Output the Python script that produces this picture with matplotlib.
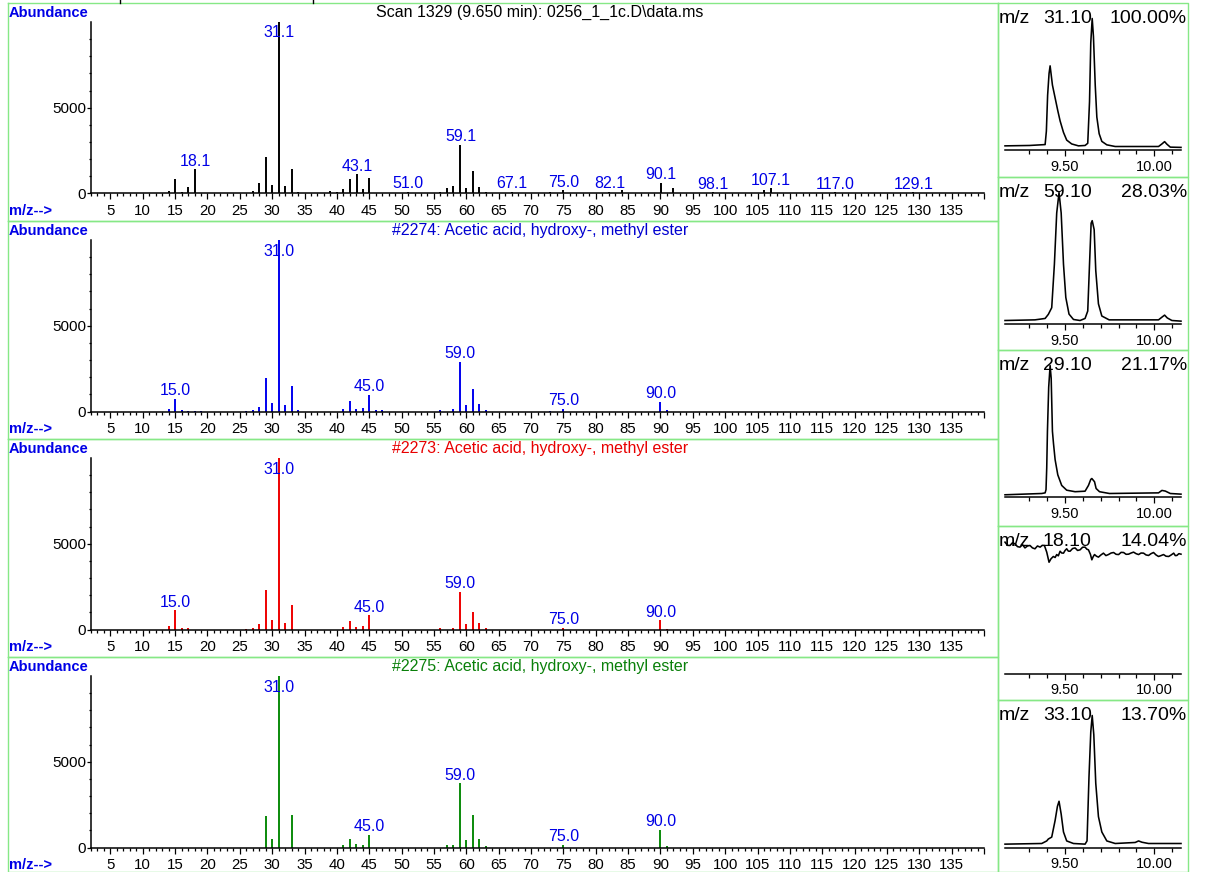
import matplotlib
matplotlib.use("Agg")
import matplotlib.pyplot as plt
from matplotlib.lines import Line2D

plt.rcParams["font.family"] = ["Liberation Sans", "DejaVu Sans"]

# ---------------------------------------------------------------- spectra data
scan_title = "Scan 1329 (9.650 min): 0256_1_1c.D\\data.ms"
scan_mz = [14.0, 15.0, 16.0, 17.0, 18.1, 27.0, 28.0, 29.0, 30.0, 31.1, 32.0, 33.0,
           34.0, 39.0, 40.0, 41.0, 42.0, 43.1, 44.0, 45.0, 51.0, 56.0, 57.0, 58.0,
           59.1, 60.0, 61.0, 62.0, 63.0, 67.1, 73.0, 75.0, 82.1, 84.0, 90.1, 92.0,
           98.1, 106.0, 107.1, 117.0, 129.1]
scan_ab = [155, 833, 100, 350, 1415, 155, 640, 2150, 523, 9980, 446, 1415,
           80, 150, 100, 250, 872, 1124, 250, 891, 110, 80, 310, 446,
           2829, 349, 1298, 407, 90, 90, 60, 175, 90, 200, 640, 320,
           80, 180, 320, 70, 80]
scan_labels = [18.1, 31.1, 43.1, 51.0, 59.1, 67.1, 75.0, 82.1, 90.1, 98.1,
               107.1, 117.0, 129.1]

lib2274_title = "#2274: Acetic acid, hydroxy-, methyl ester"
lib2274_mz = [14, 15, 16, 17, 18, 19, 26, 27, 28, 29, 30, 31, 32, 33, 34, 41, 42, 43,
              44, 45, 46, 47, 56, 58, 59, 60, 61, 62, 63, 73, 75, 90, 91]
lib2274_ab = [136, 740, 78, 50, 50, 40, 58, 97, 272, 1965, 506, 9990, 350, 1459, 78,
              136, 603, 155, 195, 973, 78, 78, 78, 117, 2898, 370, 1323, 447, 78,
              40, 150, 583, 78]
lib2274_labels = [15, 31, 45, 59, 75, 90]

lib2273_title = "#2273: Acetic acid, hydroxy-, methyl ester"
lib2273_mz = [14, 15, 16, 17, 26, 27, 28, 29, 30, 31, 32, 33, 41, 42, 43, 44, 45,
              56, 58, 59, 60, 61, 62, 63, 75, 90, 91]
lib2273_ab = [194, 1124, 97, 60, 58, 97, 330, 2326, 581, 9990, 368, 1434, 155, 523,
              174, 194, 833, 116, 116, 2190, 310, 1008, 388, 78, 100, 543, 40]
lib2273_labels = [15, 31, 45, 59, 75, 90]

lib2275_title = "#2275: Acetic acid, hydroxy-, methyl ester"
lib2275_mz = [29, 30, 31, 33, 41, 42, 43, 44, 45, 57, 58, 59, 60, 61, 62, 63, 75,
              90, 91]
lib2275_ab = [1841, 485, 9990, 1919, 136, 485, 194, 174, 736, 136, 174, 3760, 465,
              1880, 504, 78, 150, 1030, 60]
lib2275_labels = [31, 45, 59, 75, 90]

# ------------------------------------------------------- ion chromatogram data
eic_names = ["31.10", "59.10", "29.10", "18.10", "33.10"]
eic_pct = ["100.00%", "28.03%", "21.17%", "14.04%", "13.70%"]

eic31_t = [9.163, 9.30, 9.388, 9.395, 9.402, 9.410, 9.416, 9.429, 9.444, 9.459,
           9.472, 9.491, 9.509, 9.537, 9.575, 9.612, 9.627, 9.637, 9.644, 9.652,
           9.659, 9.669, 9.678, 9.691, 9.706, 9.734, 9.781, 10.024, 10.043, 10.058,
           10.071, 10.090, 10.150]
eic31_v = [0.5, 0.8, 1.5, 12, 40, 57, 63, 48, 38, 28,
           20, 11, 5, 2, 0.5, 0.8, 2.5, 35, 81, 100,
           86, 48, 23, 10, 4, 1.3, 0, 0, 2, 3.8,
           1.8, -0.5, -0.7]

eic59_t = [9.163, 9.331, 9.388, 9.406, 9.425, 9.440, 9.453, 9.466, 9.478, 9.491,
           9.504, 9.522, 9.547, 9.584, 9.612, 9.627, 9.637, 9.646, 9.652, 9.663,
           9.672, 9.687, 9.706, 9.747, 10.024, 10.043, 10.058, 10.073, 10.099, 10.150]
eic59_v = [0, 0.5, 1.6, 4.8, 10, 44, 84, 100, 84, 44,
           18, 5, 0.8, 0, 1.6, 7.4, 44, 76, 78, 71,
           39, 13, 3.5, 0.5, 0.5, 2.6, 4.2, 2, 0, -0.5]

eic29_t = [9.163, 9.369, 9.388, 9.393, 9.397, 9.401, 9.408, 9.416, 9.422, 9.429,
           9.435, 9.444, 9.459, 9.481, 9.509, 9.556, 9.612, 9.631, 9.644, 9.650,
           9.665, 9.674, 9.693, 9.749, 10.024, 10.043, 10.062, 10.090, 10.150]
eic29_v = [-1, 0, 0.5, 3, 20, 48.6, 83, 100, 90, 48.6,
           39, 26.5, 14.6, 6.3, 2.6, 1.4, 1.8, 6.3, 11, 11.7,
           9.2, 3.9, 1.4, 0, 0.5, 2.4, 1.9, 0, -0.5]

eic18_t = [9.163, 9.177, 9.191, 9.205, 9.219, 9.233, 9.247, 9.261, 9.275, 9.289,
           9.303, 9.317, 9.331, 9.345, 9.360, 9.372, 9.384, 9.397, 9.410, 9.421,
           9.434, 9.444, 9.453, 9.462, 9.472, 9.481, 9.491, 9.500, 9.509, 9.518,
           9.528, 9.542, 9.556, 9.570, 9.584, 9.598, 9.612, 9.622, 9.631, 9.642,
           9.650, 9.657, 9.665, 9.676, 9.687, 9.701, 9.715, 9.729, 9.743, 9.758,
           9.772, 9.786, 9.800, 9.814, 9.828, 9.842, 9.856, 9.870, 9.884, 9.898,
           9.912, 9.926, 9.940, 9.954, 9.968, 9.982, 9.996, 10.010, 10.024, 10.038,
           10.052, 10.066, 10.081, 10.095, 10.109, 10.118, 10.127, 10.138, 10.150]
eic18_v = [99.5, 97.0, 96.9, 99.0, 98.2, 96.0, 95.6, 97.5, 95.0, 96.5,
           96.9, 95.0, 94.3, 96.5, 95.6, 97.0, 96.9, 91.7, 83.8, 86.5,
           88.3, 87.5, 89.8, 88.8, 92.4, 91.0, 90.9, 93.0, 94.3, 92.5,
           92.4, 94.5, 95.0, 93.0, 93.5, 95.5, 95.6, 94.0, 93.5, 90.0,
           85.7, 88.0, 89.8, 88.5, 87.8, 89.5, 90.9, 89.0, 89.8, 91.0,
           91.4, 90.0, 89.8, 91.5, 91.4, 90.0, 90.1, 91.0, 91.7, 90.5,
           89.8, 91.0, 90.9, 89.5, 89.1, 90.5, 91.4, 89.5, 88.3, 89.0,
           89.8, 88.5, 88.3, 89.5, 90.9, 89.0, 89.1, 90.5, 90.1]

eic33_t = [9.163, 9.369, 9.397, 9.406, 9.425, 9.444, 9.457, 9.466, 9.478, 9.491,
           9.509, 9.547, 9.612, 9.623, 9.634, 9.644, 9.652, 9.661, 9.672, 9.687,
           9.706, 9.734, 9.781, 9.893, 9.912, 9.931, 9.968, 10.150]
eic33_v = [-0.5, 0, 2, 3.5, 5, 18, 29, 33, 23, 9,
           2, 0, -0.5, 2, 52, 87, 100, 85, 47, 21,
           9, 2, 0, 0.8, 2, 1, 0, 0]

# ------------------------------------------------------------------ figure
W, H = 1205, 872
fig = plt.figure(figsize=(W / 100, H / 100), dpi=100)

FRAME = "#86e886"
BLUE = "#0000e6"


def axes_px(x0, y0, x1, y1):
    return fig.add_axes([x0 / W, 1 - y1 / H, (x1 - x0) / W, (y1 - y0) / H])


def fig_line(xs, ys, **kw):
    fig.add_artist(Line2D([x / W for x in xs], [1 - y / H for y in ys], **kw))


def spectrum(top, mz, ab, labels, title, bar_color, title_color):
    ax = axes_px(91, top + 19, 984, top + 190.5)
    ax.set_xlim(2, 140)
    ax.set_ylim(0, 10000)
    for s in ("top", "right"):
        ax.spines[s].set_visible(False)
    for s in ("left", "bottom"):
        ax.spines[s].set_linewidth(1.1)
    ax.patch.set_alpha(0)
    ax.vlines(mz, 0, ab, colors=bar_color, lw=1.4)

    majors = list(range(5, 141, 5))
    ax.set_xticks(majors)
    ax.set_xticklabels([str(v) if v <= 135 else "" for v in majors])
    ax.set_xticks(range(2, 141), minor=True)
    ax.set_yticks([0, 5000])
    ax.set_yticks(range(1000, 10000, 1000), minor=True)
    ax.tick_params(axis="x", which="major", length=4.3, width=0.9, pad=3.2,
                   labelsize=10.8, direction="out")
    ax.tick_params(axis="x", which="minor", length=2.4, width=0.9, direction="out")
    ax.tick_params(axis="y", which="major", length=3.0, width=0.9, pad=0.5,
                   labelsize=11)
    ax.tick_params(axis="y", which="minor", length=1.3, width=0.9)

    px = 171.5 / 10000.0  # pixels per abundance unit
    for lab in labels:
        i = min(range(len(mz)), key=lambda k: abs(mz[k] - lab))
        y = min(ab[i] + 3.5 / px, 10000 - 15.5 / px)
        ax.text(mz[i], y, f"{lab:.1f}", ha="center", va="baseline",
                color=BLUE, fontsize=11.5, clip_on=False)

    fig.text(540 / W, 1 - (top + 9.5) / H, title, ha="center", va="center",
             color=title_color, fontsize=11.5)
    fig.text(9 / W, 1 - (top + 10) / H, "Abundance", ha="left", va="center",
             color=BLUE, fontsize=10.5, fontweight="bold")
    fig.text(9 / W, 1 - (top + 208) / H, "m/z-->", ha="left", va="center",
             color=BLUE, fontsize=10.5, fontweight="bold")


spec_tops = [3, 221, 439, 657]
spectrum(spec_tops[0], scan_mz, scan_ab, scan_labels, scan_title, "black", "black")
spectrum(spec_tops[1], lib2274_mz, lib2274_ab, lib2274_labels, lib2274_title,
         "#0000ee", "#0000d0")
spectrum(spec_tops[2], lib2273_mz, lib2273_ab, lib2273_labels, lib2273_title,
         "#ee0000", "#e80000")
spectrum(spec_tops[3], lib2275_mz, lib2275_ab, lib2275_labels, lib2275_title,
         "#0a8a0a", "#0a800a")


def chromatogram(top, t, v, name, pct):
    ax = axes_px(1005, top + 10, 1181, top + 147.5)
    ax.set_xlim(9.163, 10.15)
    ax.set_ylim(-4 / 1.28, (137.5 - 4) / 1.28)
    for s in ("top", "right", "left"):
        ax.spines[s].set_visible(False)
    ax.spines["bottom"].set_linewidth(1.1)
    ax.patch.set_alpha(0)
    ax.plot(t, v, color="black", lw=1.15, clip_on=False, zorder=3)
    ax.set_yticks([])
    ax.set_xticks([9.5, 10.0])
    ax.set_xticklabels(["9.50", "10.00"])
    ax.set_xticks([9.3, 9.4, 9.6, 9.7, 9.8, 9.9, 10.1], minor=True)
    ax.tick_params(axis="x", which="major", length=4.3, width=0.9, pad=2.8,
                   labelsize=10.5)
    ax.tick_params(axis="x", which="minor", length=3.2, width=0.9)

    base = 1 - (top + 20) / H
    fig.text(999 / W, base, "m/z", ha="left", va="baseline", fontsize=14)
    fig.text(1043 / W, base, name, ha="left", va="baseline", fontsize=14)
    fig.text(1187 / W, base, pct, ha="right", va="baseline", fontsize=14)


eic_tops = [3, 177, 350, 526, 700]
eic_t = [eic31_t, eic59_t, eic29_t, eic18_t, eic33_t]
eic_v = [eic31_v, eic59_v, eic29_v, eic18_v, eic33_v]
for top, t, v, name, pct in zip(eic_tops, eic_t, eic_v, eic_names, eic_pct):
    chromatogram(top, t, v, name, pct)

# panel frames
for y0, y1 in zip(spec_tops, spec_tops[1:] + [872]):
    fig_line([8, 998, 998, 8, 8], [y0, y0, y1, y1, y0], color=FRAME, lw=1.0)
for y0, y1 in zip(eic_tops, eic_tops[1:] + [872]):
    fig_line([998, 1188, 1188, 998, 998], [y0, y0, y1, y1, y0], color=FRAME, lw=1.0)

# ends of the strip above, cut by the page edge
fig_line([120, 120], [0, 3], color="black", lw=1.0)
fig_line([313, 313], [0, 3], color="black", lw=1.0)

fig.savefig("out.png", dpi=100, facecolor="white")
